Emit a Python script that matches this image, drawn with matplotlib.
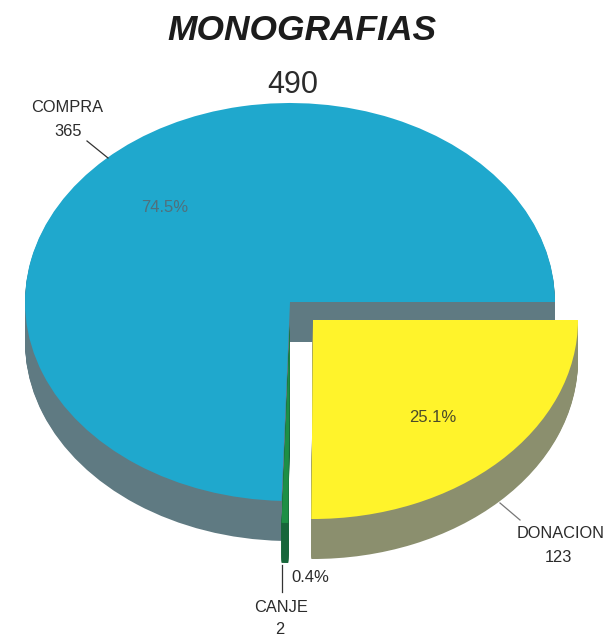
import matplotlib
matplotlib.use("Agg")
import matplotlib.pyplot as plt

title = "MONOGRAFIAS"
total_label = "490"
categories = ["DONACION", "CANJE", "COMPRA"]
values = [123, 2, 365]
top_colors = ["#fff32b", "#1d8f45", "#1fa8cd"]
wall_colors = ["#8b8f6e", "#17663a", "#5f7a82"]

W, H = 611, 636
CX, CY, RX, RY = 290, 302, 265, 199
DEPTH = 40
# slice offsets in pixels (right, down)
offsets = [(23, 18), (0, 22), (0, 0)]
z_base = [30, 20, 10]

plt.rcParams["font.family"] = ["Liberation Sans", "DejaVu Sans"]
fig = plt.figure(figsize=(W / 100, H / 100), dpi=100, facecolor="white")
ax = fig.add_axes([0, 0, 1, 1])


def X(px):
    return (px - CX) / RX


def Y(py):
    return (CY - py) / RY


for d in range(DEPTH, -1, -1):
    colors = top_colors if d == 0 else wall_colors
    wedges, _ = ax.pie(values, colors=colors, startangle=0, counterclock=False)
    for i, w in enumerate(wedges):
        dx, dy = offsets[i]
        w.set_center((dx / RX, -(dy + d) / RY))
        w.set_zorder(z_base[i] + (1 if d == 0 else 0))
        w.set_linewidth(0)

ax.set_aspect("auto")
ax.set_xlim(X(0), X(W))
ax.set_ylim(Y(H), Y(0))
ax.axis("off")


def label(px, py, s, size=11.8, **kw):
    kw.setdefault("color", "#2b2b2b")
    ax.text(X(px), Y(py), s, fontsize=size, ha="center", va="center", zorder=50, **kw)


def leader(x0, y0, x1, y1, color="#333333"):
    ax.plot([X(x0), X(x1)], [Y(y0), Y(y1)], color=color, lw=0.9, zorder=50)


total = sum(values)
pct = [f"{v / total * 100:.1f}%" for v in values]

label(302, 31, title, size=25.5, weight="bold", style="italic", color="#1c1c1c")
label(293, 85, total_label, size=22)

label(67, 108, categories[2])
label(68, 132, str(values[2]))
leader(87, 141, 108, 158)
label(165, 208, pct[2], color="#50707c", size=12)

label(433, 417, pct[0], color="#4a4a2a", size=12)
label(561, 533, categories[0])
label(558, 558, str(values[0]))
leader(500, 503, 520, 520, color="#777777")

label(310, 577, pct[1], size=12)
leader(282, 565, 282, 592)
label(281, 607, categories[1])
label(280, 630, str(values[1]))

fig.savefig("out.png", dpi=100, facecolor="white")
